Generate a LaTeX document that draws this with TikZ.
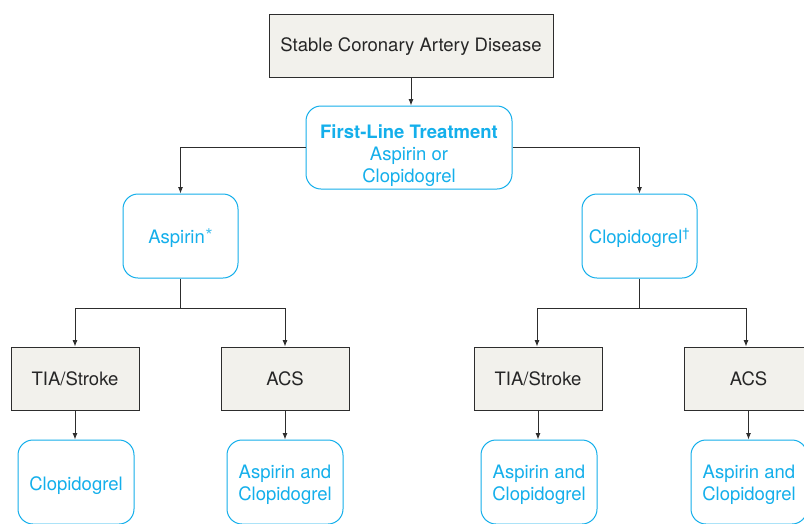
\documentclass[tikz,border=0pt]{standalone}
\usepackage{fontspec}
\setmainfont{TeX Gyre Heros}
\usetikzlibrary{arrows.meta}
\definecolor{cblue}{RGB}{20,175,235}
\definecolor{cgray}{RGB}{242,241,236}
\definecolor{cline}{RGB}{45,45,45}
\newcommand{\dnt}[2]{\raisebox{-#1}[\height][\depth]{\begin{tabular}{@{}c@{}}#2\end{tabular}}}
\tikzset{
  graybox/.style={draw=cline, fill=cgray, line width=0.9pt, minimum width=128pt, minimum height=63pt, inner sep=0pt, align=center, text=black!85, font=\fontsize{18.5}{22}\selectfont},
  bluebox/.style={draw=cblue, rounded corners=15pt, line width=1pt, minimum width=116pt, minimum height=84pt, inner sep=0pt, align=center, text=cblue, font=\fontsize{18.5}{22}\selectfont},
  conn/.style={draw=cline, line width=0.9pt},
  arr/.style={conn, -{Latex[length=6.5pt,width=5pt]}}
}
\begin{document}
\begin{tikzpicture}[x=1pt,y=-1pt]
\useasboundingbox (0,0) rectangle (804,523);
\clip (0,0) rectangle (804,523);
\fill[white] (0,0) rectangle (804,523);
\node[graybox, minimum width=284pt] (top) at (411,45.5) {\dnt{2pt}{Stable Coronary Artery Disease}};
\node[bluebox, minimum width=206pt, minimum height=83pt] (first) at (409,147.5) {\dnt{9pt}{\textbf{First-Line Treatment}\\Aspirin or\\Clopidogrel}};
\node[bluebox, minimum width=115pt] (asp) at (180.5,236) {\dnt{3pt}{Aspirin\kern0.5pt\smash{\raisebox{1pt}{\textcolor{cblue!75}{\fontsize{19}{19}\selectfont *}}}}};
\node[bluebox, minimum width=115pt] (clo) at (639.5,236) {\dnt{3pt}{Clopidogrel\textsuperscript{\dag}}};
\node[graybox] (tia1) at (75,378.5) {TIA/Stroke};
\node[graybox] (acs1) at (285,378.5) {ACS};
\node[graybox] (tia2) at (538,378.5) {TIA/Stroke};
\node[graybox] (acs2) at (748.5,378.5) {ACS};
\node[bluebox] (r1) at (76,482) {\dnt{4pt}{Clopidogrel}};
\node[bluebox] (r2) at (285,482) {\dnt{3pt}{Aspirin and\\Clopidogrel}};
\node[bluebox] (r3) at (539,482) {\dnt{3pt}{Aspirin and\\Clopidogrel}};
\node[bluebox] (r4) at (749,482) {\dnt{3pt}{Aspirin and\\Clopidogrel}};
\draw[arr] (top.south -| 411,0) -- (first.north -| 411,0);
\draw[arr] (first.west) -| (asp.north);
\draw[arr] (first.east) -| (clo.north);
\coordinate (j1) at (180.5,308);
\coordinate (j2) at (639.5,308);
\draw[conn] (asp.south) -- (j1);
\draw[conn] (clo.south) -- (j2);
\draw[arr] (j1) -| (tia1.north);
\draw[arr] (j1) -| (acs1.north);
\draw[arr] (j2) -| ([xshift=-1pt]tia2.north);
\draw[arr] (j2) -| ([xshift=-2.5pt]acs2.north);
\draw[arr] (tia1.south) -- (tia1.south |- r1.north);
\draw[arr] (acs1.south) -- (r2.north);
\draw[arr] (tia2.south) -- (tia2.south |- r3.north);
\draw[arr] (acs2.south) -- (acs2.south |- r4.north);
\end{tikzpicture}
\end{document}
